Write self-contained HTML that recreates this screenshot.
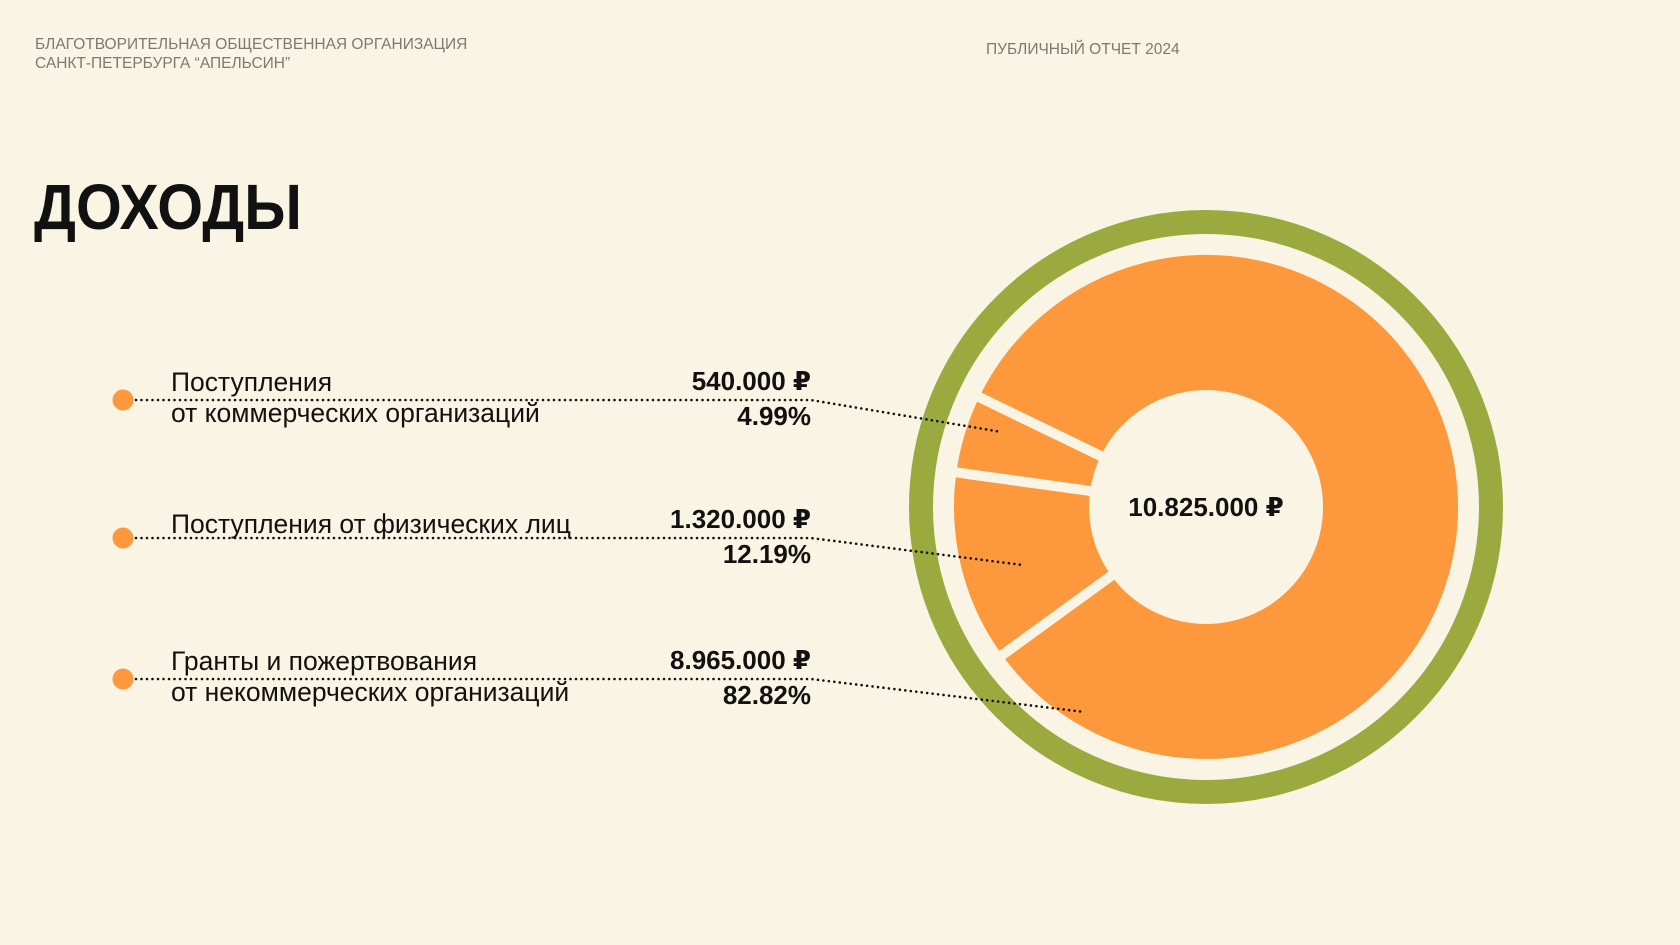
<!DOCTYPE html>
<html><head><meta charset="utf-8">
<style>
html,body{margin:0;padding:0;}
body{width:1680px;height:945px;background:#faf4e4;position:relative;overflow:hidden;font-family:"Liberation Sans","DejaVu Sans",sans-serif;}
.hdr{position:absolute;color:#7a7a72;font-size:15.5px;line-height:19px;}
h1{position:absolute;left:34px;top:170px;margin:0;font-size:64px;font-weight:900;color:#111;transform:scaleX(0.92);transform-origin:left top;}
svg{position:absolute;left:0;top:0;}
</style></head>
<body>
<div class="hdr" style="left:35px;top:35px;">БЛАГОТВОРИТЕЛЬНАЯ ОБЩЕСТВЕННАЯ ОРГАНИЗАЦИЯ<br>САНКТ-ПЕТЕРБУРГА “АПЕЛЬСИН”</div>
<div class="hdr" style="left:986px;top:40px;">ПУБЛИЧНЫЙ ОТЧЕТ 2024</div>
<h1>ДОХОДЫ</h1>
<svg id="chart" width="1680" height="945"></svg>
<script>
const categories = ["Поступления от физических лиц", "Поступления от коммерческих организаций", "Гранты и пожертвования от некоммерческих организаций"];
const amounts = [1320000, 540000, 8965000];
const totalLabel = "10.825.000 ₽";
const legendLine1 = ["Поступления", "Поступления от физических лиц", "Гранты и пожертвования"];
const legendLine2 = ["от коммерческих организаций", "", "от некоммерческих организаций"];
const legendAmounts = ["540.000 ₽", "1.320.000 ₽", "8.965.000 ₽"];
const legendPercents = ["4.99%", "12.19%", "82.82%"];

const NS = "http://www.w3.org/2000/svg";
const svg = document.getElementById("chart");
function mk(tag, attrs, parent){const e=document.createElementNS(NS,tag);for(const k in attrs)e.setAttribute(k,attrs[k]);(parent||svg).appendChild(e);return e;}
const cx=1206, cy=507, rOut=257, rIn=112, startDeg=144;
const total = amounts.reduce((a,b)=>a+b,0);
function pt(r,deg){const a=deg*Math.PI/180;return [cx+r*Math.cos(a), cy+r*Math.sin(a)];}

const ring = mk("circle",{cx:cx,cy:cy,r:285,fill:"none",stroke:"#9aaa3e","stroke-width":24});



let ang = startDeg;
amounts.forEach((v,i)=>{
  const span = v/total*360;
  const a0=ang, a1=ang+span;
  const large = span>180?1:0;
  const [x0,y0]=pt(rOut,a0),[x1,y1]=pt(rOut,a1),[x2,y2]=pt(rIn,a1),[x3,y3]=pt(rIn,a0);
  const p = mk("path",{d:`M${x0},${y0} A${rOut},${rOut} 0 ${large} 1 ${x1},${y1} L${x2},${y2} A${rIn},${rIn} 0 ${large} 0 ${x3},${y3} Z`,fill:"#fd983c",stroke:"#faf4e4","stroke-width":10,"stroke-linejoin":"round"});
  
  
  ang = a1;
});
const ct = mk("text",{x:cx,y:cy+9,"text-anchor":"middle","font-size":26,"font-weight":"bold",fill:"#111"});
ct.textContent = totalLabel;



const rowY = [400, 538, 679];
const endPts = [[1002,432],[1023,565],[1085,712]];
rowY.forEach((y,i)=>{
  const dot = mk("circle",{cx:123,cy:y,r:10.5,fill:"#fd983c"});
  
  
  const ln = mk("polyline",{points:`136,${y} 811,${y} ${endPts[i][0]},${endPts[i][1]}`,fill:"none",stroke:"#111","stroke-width":2.6,"stroke-dasharray":"0 5.5","stroke-linecap":"round"});
  
  
  const two = legendLine2[i] !== "";
  const t1 = mk("text",{x:171,y:two?y-9:y-5,"font-size":26.5,fill:"#111"});
  t1.textContent = legendLine1[i];
  
  
  if(two){
    const t2 = mk("text",{x:171,y:y+22,"font-size":26.5,fill:"#111"});
    t2.textContent = legendLine2[i];
    
    
  }
  const va = mk("text",{x:811,y:y-10,"text-anchor":"end","font-size":26,"font-weight":"bold",fill:"#111"});
  va.textContent = legendAmounts[i];
  
  
  const vp = mk("text",{x:811,y:y+25,"text-anchor":"end","font-size":26,"font-weight":"bold",fill:"#111"});
  vp.textContent = legendPercents[i];
  
  
});
</script>
</body></html>
